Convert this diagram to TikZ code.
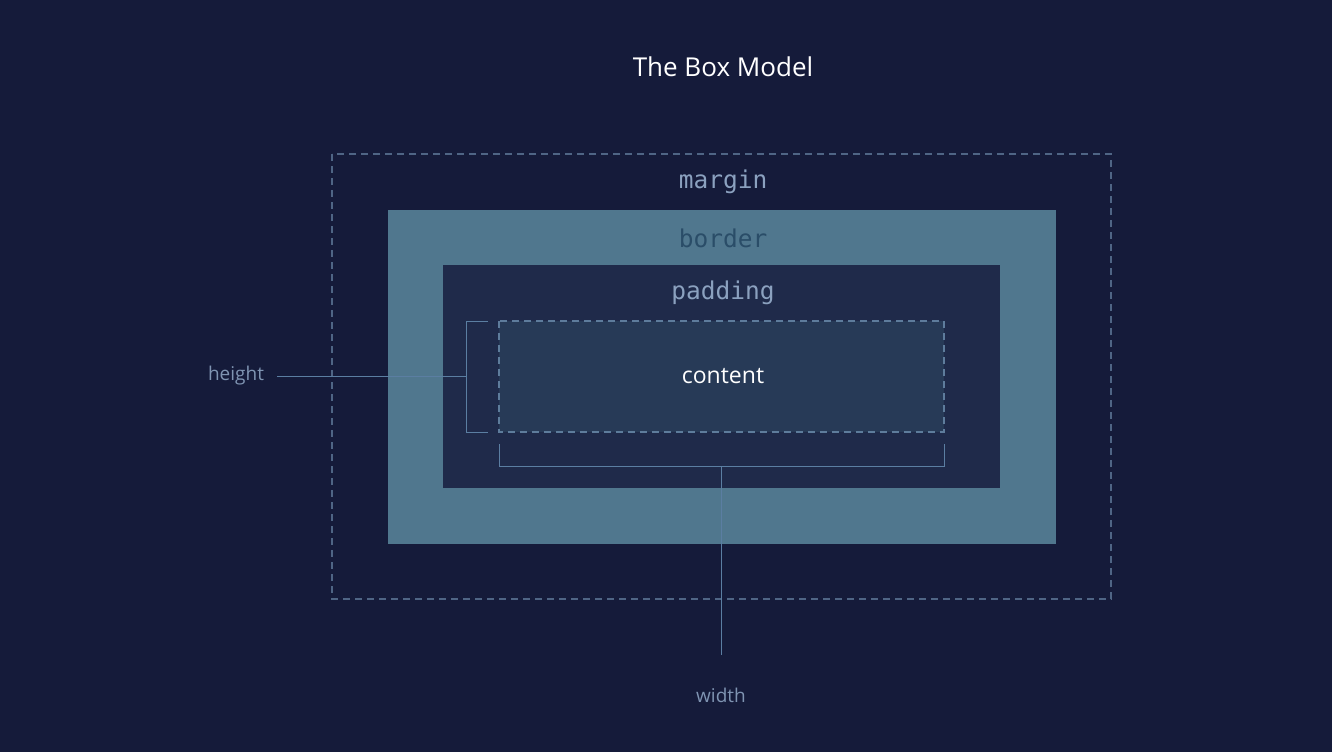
\documentclass[tikz,border=0pt]{standalone}
\usepackage{fontspec}
\setmainfont{Open Sans}
\newfontfamily\monof{DejaVu Sans Mono}
\definecolor{bg}{HTML}{151B3A}
\definecolor{marginline}{HTML}{4F6585}
\definecolor{borderfill}{HTML}{50778E}
\definecolor{padfill}{HTML}{1F2A4A}
\definecolor{contfill}{HTML}{273A57}
\definecolor{contline}{HTML}{5E7C9C}
\definecolor{lbl}{HTML}{8BA1BF}
\definecolor{borderlbl}{HTML}{2A4D68}
\definecolor{guide}{HTML}{5B7EA2}
\definecolor{dimlbl}{HTML}{7F94B2}
\begin{document}
\begin{tikzpicture}[x=1pt,y=-1pt,
  boxlbl/.style={font=\monof\fontsize{24.5}{28}\selectfont, anchor=center},
  dimtext/.style={font=\fontsize{19}{22}\selectfont, text=dimlbl, anchor=center},
  guideline/.style={draw=guide, line width=1pt}]
\fill[bg] (0,0) rectangle (1332,752);
\useasboundingbox (0,0) rectangle (1332,752);
\node[font=\fontsize{26}{30}\selectfont, text=white] (title) at (723,67) {The Box Model};
% margin
\draw[marginline, line width=1.2pt, dash pattern=on 7pt off 5pt] (332,154) rectangle (1111,599);
% border
\fill[borderfill] (388,210) rectangle (1056,544);
% padding
\fill[padfill] (443,265) rectangle (1000,488);
% content
\filldraw[fill=contfill, draw=contline, line width=1.2pt, dash pattern=on 7pt off 5pt] (499,321) rectangle (944,432);
\node[boxlbl, text=lbl] (marginlbl) at (723,182) {margin};
\node[boxlbl, text=borderlbl] (borderlbl) at (723,238) {border};
\node[boxlbl, text=lbl] (paddinglbl) at (723,293) {padding};
\node[font=\fontsize{23}{26}\selectfont, text=white] (contentlbl) at (723,376) {content};
% height bracket
\coordinate (hA) at (488,321);
\coordinate (hB) at (488,432);
\coordinate (hM) at (466,376);
\coordinate (hEnd) at (277,376);
\draw[guideline] (hA) -- (466,321) -- (466,432) -- (hB);
\node[dimtext] (height) at (236,376) {height};
\draw[guideline] (hEnd) -- (hM);
% width bracket
\coordinate (wA) at (499,444);
\coordinate (wB) at (944,444);
\coordinate (wM) at (721,466);
\coordinate (wEnd) at (721,655);
\draw[guideline] (wA) -- (499,466) -- (944,466) -- (wB);
\draw[guideline] (wM) -- (wEnd);
\node[dimtext] (width) at (721,695) {width};
\end{tikzpicture}
\end{document}
